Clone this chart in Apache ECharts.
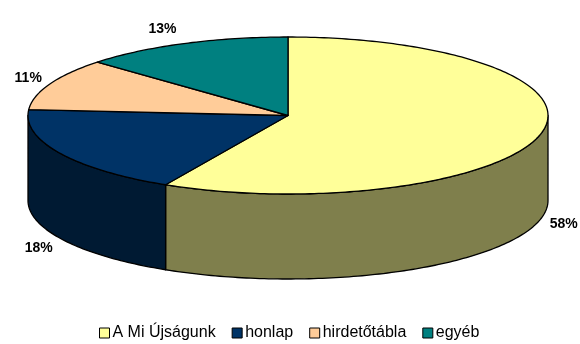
<!DOCTYPE html>
<html><head><meta charset="utf-8">
<style>html,body{margin:0;padding:0;background:#fff}#c{width:580px;height:344px}</style>
<script src="https://cdn.jsdelivr.net/npm/echarts@6/dist/echarts.min.js"></script>
</head><body><div id="c"></div>
<script>
const categories = ['A Mi Újságunk', 'honlap', 'hirdetőtábla', 'egyéb'];
const values = [57.8, 18.4, 10.7, 13.1];
const topColors = ['#FFFF99', '#003366', '#FFCC99', '#008080'];
const sideColors = ['#7F7F4C', '#001A33', '#7F6650', '#004040'];

const CX = 288, CY = 115.5, RX = 260, RY = 78.5, DEPTH = 85;
const total = values.reduce((a, b) => a + b, 0);
const rim = deg => {
  const t = deg * Math.PI / 180;
  return [CX + RX * Math.sin(t), CY - RY * Math.cos(t)];
};
const arc = (from, to) => {
  const n = Math.max(2, Math.ceil(Math.abs(to - from)));
  const pts = [];
  for (let i = 0; i <= n; i++) pts.push(rim(from + (to - from) * i / n));
  return pts;
};
const stroke = { stroke: '#000', lineWidth: 1.3, lineJoin: 'round' };

const sliceSeries = categories.map((name, idx) => {
  const before = values.slice(0, idx).reduce((a, b) => a + b, 0);
  const start = before / total * 360, end = (before + values[idx]) / total * 360;
  return {
    type: 'custom', name, coordinateSystem: 'none', silent: true,
    itemStyle: { color: topColors[idx], borderColor: '#000', borderWidth: 1 },
    data: [values[idx]],
    z: 2,
    renderItem: () => {
      const children = [];
      const a = Math.max(start, 90), b = Math.min(end, 270);
      if (b > a) {
        const up = arc(a, b);
        const down = up.map(p => [p[0], p[1] + DEPTH]).reverse();
        children.push({ type: 'polygon', shape: { points: up.concat(down) },
          style: Object.assign({ fill: sideColors[idx] }, stroke) });
      }
      children.push({ type: 'polygon', shape: { points: [[CX, CY]].concat(arc(start, end)) },
        style: Object.assign({ fill: topColors[idx] }, stroke) });
      const mid = (start + end) / 2, t = mid * Math.PI / 180, c = Math.cos(t);
      const p = rim(mid), wall = (mid > 90 && mid < 270) ? DEPTH : 0;
      children.push({ type: 'text', z2: 10, style: {
        x: p[0] + 22.5 * Math.sign(Math.sin(t)) + 1, y: p[1] + wall - (c > 0 ? 16 : 21) * c,
        text: Math.round(values[idx] / total * 100) + '%',
        fill: '#000', font: 'bold 14px "Liberation Sans", Arial, sans-serif',
        align: 'center', verticalAlign: 'middle' } });
      return { type: 'group', children };
    }
  };
});

const chart = echarts.init(document.getElementById('c'), null, { renderer: 'canvas' });
chart.setOption({
  animation: false,
  backgroundColor: '#fff',
  legend: {
    data: categories, left: 94, top: 320, icon: 'rect',
    itemWidth: 10, itemHeight: 10, itemGap: 16,
    itemStyle: { borderColor: '#000', borderWidth: 1 },
    textStyle: { fontFamily: '"Liberation Sans", Arial, sans-serif', fontSize: 16, color: '#000', padding: [0, 0, 0, -2] }
  },
  series: sliceSeries
});
</script></body></html>
